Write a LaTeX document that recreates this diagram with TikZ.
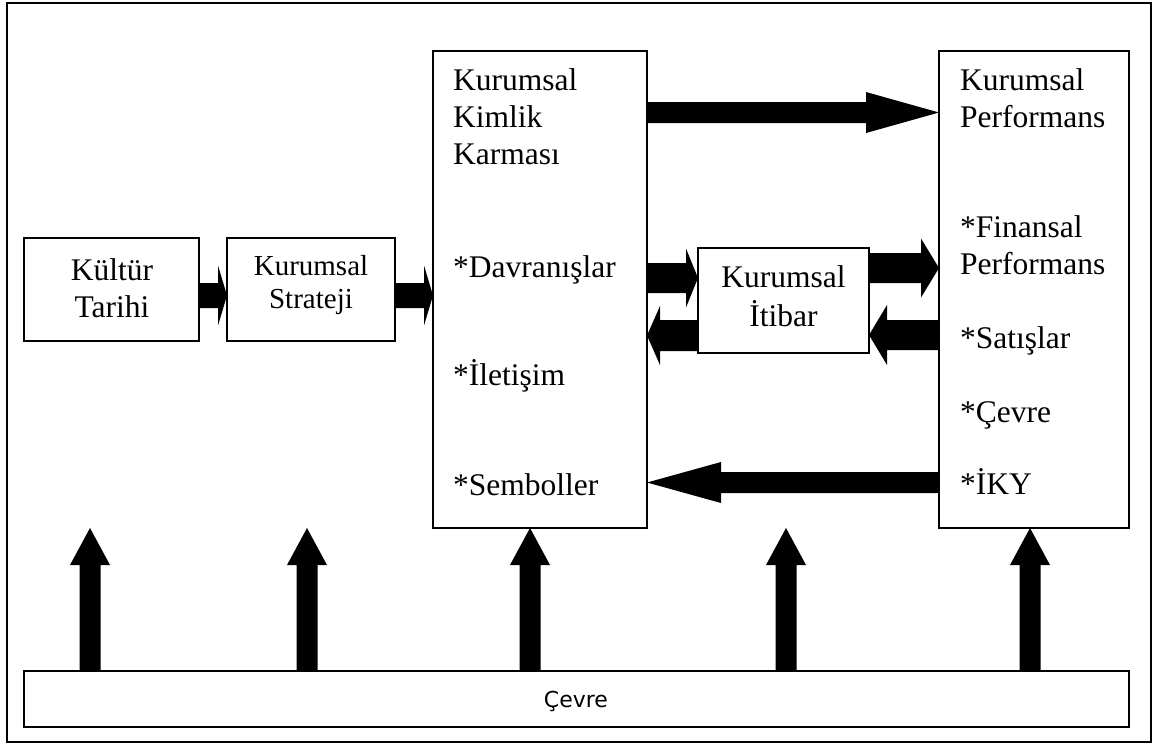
\documentclass[tikz,border=0pt]{standalone}
\usepackage{fontspec}
\setmainfont{Liberation Serif}
\newfontfamily\cevrefont{DejaVu Sans}
\usetikzlibrary{calc}
% fat block arrow: start, tip, shaft half width, head half width, head length
\newcommand\fatarrow[5]{%
  \path coordinate (fahead) at ($(#2)!#5!(#1)$);
  \fill[black] ($(#1)!#3!90:(#2)$) -- ($(fahead)!#3!90:(#2)$) -- ($(fahead)!#4!90:(#2)$) -- (#2)
     -- ($(fahead)!#4!-90:(#2)$) -- ($(fahead)!#3!-90:(#2)$) -- ($(#1)!#3!-90:(#2)$) -- cycle;}
\tikzset{
  box/.style={draw=black, line width=1.6pt, fill=white, inner sep=0pt, outer sep=0pt},
  lbl/.style={anchor=base west, inner sep=0pt, font=\fontsize{31.5}{37}\selectfont},
  clbl/.style={anchor=base, inner sep=0pt, font=\fontsize{31.5}{37}\selectfont},
  slbl/.style={anchor=base, inner sep=0pt, font=\fontsize{29}{33}\selectfont},
}
\begin{document}
\begin{tikzpicture}[x=1pt, y=-1pt]
\useasboundingbox (0,0) rectangle (1154,745);
\fill[white] (0,0) rectangle (1154,745);
\node[draw=black, line width=2pt, inner sep=0pt, outer sep=0pt, minimum width=1144, minimum height=739] (frame) at (579,372.5) {};

% boxes
\node[box, minimum width=175, minimum height=103] (kt) at (111.5,289.5) {};
\node[box, minimum width=168, minimum height=103] (ks) at (311,289.5) {};
\node[box, minimum width=214, minimum height=477] (kkk) at (540,289.5) {};
\node[box, minimum width=171, minimum height=105] (ki) at (783.5,300.5) {};
\node[box, minimum width=190, minimum height=477] (kp) at (1034,289.5) {};
\node[box, minimum width=1105, minimum height=56] (cevre) at (576.5,699) {};

% texts
\node[clbl] (kt1) at (112,280) {Kültür};
\node[clbl] (kt2) at (112,317) {Tarihi};
\node[slbl] (ks1) at (311,275) {Kurumsal};
\node[slbl] (ks2) at (311,308) {Strateji};
\node[clbl] (ki1) at (783.5,287) {Kurumsal};
\node[clbl] (ki2) at (783.5,326) {İtibar};

\node[lbl] (m1) at (453,90) {Kurumsal};
\node[lbl] (m2) at (453,127) {Kimlik};
\node[lbl] (m3) at (453,164) {Karması};
\node[lbl] (m4) at (453,277) {*Davranışlar};
\node[lbl] (m5) at (453,385) {*İletişim};
\node[lbl] (m6) at (453,495) {*Semboller};

\node[lbl] (p1) at (960,90) {Kurumsal};
\node[lbl] (p2) at (960,127) {Performans};
\node[lbl] (p3) at (960,237) {*Finansal};
\node[lbl] (p4) at (960,274) {Performans};
\node[lbl] (p5) at (960,348) {*Satışlar};
\node[lbl] (p6) at (960,422) {*Çevre};
\node[lbl] (p7) at (960,494) {*İKY};

\node[anchor=base, inner sep=0pt, font=\cevrefont\fontsize{22}{26}\selectfont] (cv) at (576,707) {Çevre};

% horizontal block arrows
\fatarrow{$(kt.east)+(0,6)$}{$(ks.west)+(0,6)$}{12.5pt}{30pt}{9pt}
\fatarrow{$(ks.east)+(0,6)$}{$(kkk.west)+(0,6)$}{12.5pt}{30pt}{9pt}
\fatarrow{$(kkk.east)+(0,-177)$}{$(kp.west)+(0,-177)$}{10.5pt}{20.5pt}{73pt}
\fatarrow{$(kkk.east)+(0,-11.5)$}{$(ki.west)+(0,-22.5)$}{15pt}{29.5pt}{12pt}
\fatarrow{$(ki.west)+(0,35)$}{$(kkk.east)+(0,46)$}{15.5pt}{29.5pt}{13pt}
\fatarrow{$(ki.east)+(0,-32.5)$}{$(kp.west)+(0,-21.5)$}{15pt}{29.5pt}{18pt}
\fatarrow{$(kp.west)+(0,45.5)$}{$(ki.east)+(0,34.5)$}{15pt}{30pt}{18pt}
\fatarrow{$(kp.west)+(0,193)$}{$(kkk.east)+(0,193)$}{10.5pt}{20.5pt}{74pt}

% upward arrows from Çevre
\coordinate (u1) at (90,528);
\coordinate (u2) at (307,528);
\coordinate (u3) at ($(kkk.south)+(-10,0)$);
\coordinate (u4) at (786,528);
\coordinate (u5) at ($(kp.south)+(-4,0)$);
\coordinate (b1) at (cevre.north -| u1);
\coordinate (b2) at (cevre.north -| u2);
\coordinate (b3) at (cevre.north -| u3);
\coordinate (b4) at (cevre.north -| u4);
\coordinate (b5) at (cevre.north -| u5);
\fatarrow{b1}{u1}{10.5pt}{20pt}{37pt}
\fatarrow{b2}{u2}{10.5pt}{20pt}{37pt}
\fatarrow{b3}{u3}{10.5pt}{20pt}{37pt}
\fatarrow{b4}{u4}{10.5pt}{20pt}{37pt}
\fatarrow{b5}{u5}{10.5pt}{20pt}{37pt}
\end{tikzpicture}
\end{document}
